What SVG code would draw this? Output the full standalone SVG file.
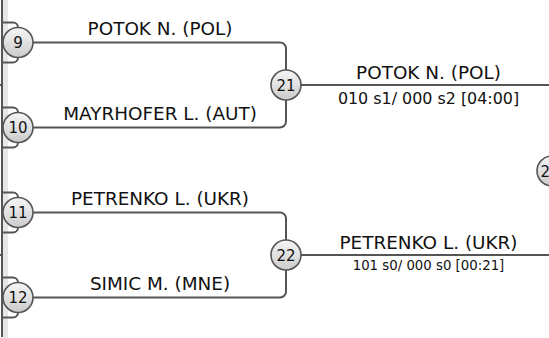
<svg xmlns="http://www.w3.org/2000/svg" width="549" height="338" viewBox="0 0 549 338">
<defs>
<linearGradient id="g" x1="0" y1="0" x2="0" y2="1">
<stop offset="0" stop-color="#f6f6f6"/>
<stop offset="1" stop-color="#cbcbcb"/>
</linearGradient>
<style>
.c{fill:url(#g);stroke:#555;stroke-width:1.6}
.l{fill:none;stroke:#555;stroke-width:2}
.n{font-family:"DejaVu Sans",sans-serif;font-size:15px;fill:#111;text-anchor:middle}
.t{font-family:"DejaVu Sans",sans-serif;font-size:18.4px;fill:#111;text-anchor:middle}
.s{font-family:"DejaVu Sans",sans-serif;fill:#111;text-anchor:middle}
</style>
</defs>
<rect x="3" y="0" width="5" height="338" fill="#e6e6e6"/>
<g id="connectors">
<path class="l" d="M2,0 V337 M0,85 H2 M0,255 H2"/>
<path class="l" d="M2,22.5 H13 A5,5 0 0 1 18,27.5 M2,62.5 H13 A5,5 0 0 0 18,57.5"/>
<path class="l" d="M2,107.5 H13 A5,5 0 0 1 18,112.5 M2,147.5 H13 A5,5 0 0 0 18,142.5"/>
<path class="l" d="M2,192.5 H13 A5,5 0 0 1 18,197.5 M2,232.5 H13 A5,5 0 0 0 18,227.5"/>
<path class="l" d="M2,277.5 H13 A5,5 0 0 1 18,282.5 M2,317.5 H13 A5,5 0 0 0 18,312.5"/>
<path class="l" d="M33,42.5 H280 A6,6 0 0 1 286,48.5 V70 M33,127.5 H280 A6,6 0 0 0 286,121.5 V100"/>
<path class="l" d="M33,212.5 H280 A6,6 0 0 1 286,218.5 V240 M33,297.5 H280 A6,6 0 0 0 286,291.5 V270"/>
<path class="l" d="M301,85 H549 M301,255 H549"/>
</g>
<g id="n9"><circle class="c" cx="18" cy="42.5" r="15"/><text class="n" x="18" y="48">9</text></g>
<g id="n10"><circle class="c" cx="18" cy="127.5" r="15"/><text class="n" x="18" y="133">10</text></g>
<g id="n11"><circle class="c" cx="18" cy="212.5" r="15"/><text class="n" x="18" y="218">11</text></g>
<g id="n12"><circle class="c" cx="18" cy="297.5" r="15"/><text class="n" x="18" y="303">12</text></g>
<g id="n21"><circle class="c" cx="286" cy="85" r="15"/><text class="n" x="286" y="90.5">21</text></g>
<g id="n22"><circle class="c" cx="286" cy="255" r="15"/><text class="n" x="286" y="260.5">22</text></g>
<g id="n23"><circle class="c" cx="552" cy="171" r="15"/><text class="n" x="540.5" y="176.5" style="text-anchor:start">2</text></g>
<g id="labels">
<text class="t" x="160" y="35">POTOK N. (POL)</text>
<text class="t" x="160" y="120">MAYRHOFER L. (AUT)</text>
<text class="t" x="160" y="205">PETRENKO L. (UKR)</text>
<text class="t" x="160" y="290">SIMIC M. (MNE)</text>
<text class="t" x="428.5" y="79">POTOK N. (POL)</text>
<text class="s" x="428.5" y="103.5" font-size="15.9">010 s1/ 000 s2 [04:00]</text>
<text class="t" x="428.5" y="249">PETRENKO L. (UKR)</text>
<text class="s" x="428.5" y="270" font-size="13.3">101 s0/ 000 s0 [00:21]</text>
</g>
</svg>
